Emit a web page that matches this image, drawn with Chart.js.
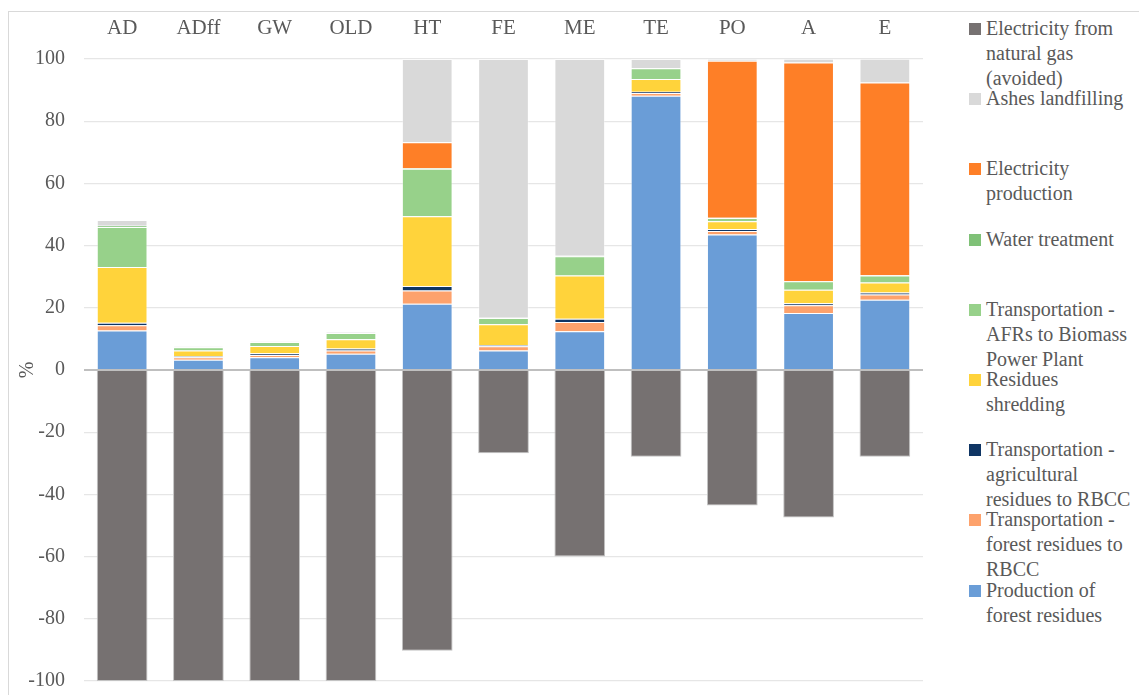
<!DOCTYPE html>
<html lang="en">
<head>
    <meta charset="UTF-8">
    <title>Contribution analysis</title>
    <script src="https://cdn.jsdelivr.net/npm/chart.js"></script>
    <style>
        body { margin: 0; background: #fff; overflow: hidden; }
        .frame { position: absolute; left: 8px; top: 11px; width: 1140px; height: 700px; border: 1px solid #d9d9d9; }
        .chart-box { position: absolute; left: 0; top: 0; width: 945px; height: 695px; overflow: hidden; }
        #legend { position: absolute; left: 0; top: 0; font-family: 'Liberation Serif', serif; font-size: 20px; color: #595959; }
        .item { position: absolute; left: 969px; width: 170px; line-height: 25px; }
        .item span.box { position: absolute; left: 0; top: 7px; width: 12px; height: 12px; }
        .item div { position: absolute; left: 17px; top: 0; white-space: nowrap; }
    </style>
</head>
<body>
    <div class="frame"></div>
    <div class="chart-box"><canvas id="myChart"></canvas></div>
    <div id="legend"></div>

    <script>
        // categorias de impacto
        const categories = ['AD', 'ADff', 'GW', 'OLD', 'HT', 'FE', 'ME', 'TE', 'PO', 'A', 'E'];

        // contribuciones (%)
        const prodForest  = [12.7, 3.3, 4.1, 5.2, 21.3, 6.3, 12.5, 88.2, 43.6, 18.3, 22.6];
        const transForest = [1.7, 0.8, 0.7, 1.1, 4.3, 1.3, 2.9, 0.9, 1.1, 2.5, 1.7];
        const transAgri   = [0.8, 0.3, 0.6, 0.6, 1.4, 0.4, 1.1, 0.4, 0.6, 0.7, 0.6];
        const shredding   = [17.9, 1.9, 2.3, 3.0, 22.4, 6.7, 13.9, 4.1, 2.5, 4.3, 3.2];
        const transAFR    = [12.9, 1.0, 1.3, 2.0, 15.3, 2.0, 6.2, 3.4, 1.1, 2.7, 2.3];
        const water       = [0.4, 0.05, 0.05, 0.05, 0.2, 0.1, 0.1, 0.05, 0.05, 0.05, 0.05];
        const elecProd    = [0, 0, 0, 0, 8.3, 0, 0, 0, 50.5, 70.3, 62.0];
        const ashes       = [1.8, 0.2, 0.2, 0.3, 26.8, 83.2, 63.3, 2.95, 0.6, 1.2, 7.6];
        const natGas      = [-100, -100, -100, -100, -90.3, -26.8, -60.0, -27.9, -43.6, -47.4, -27.9];

        const yTicks = [-100, -80, -60, -40, -20, 0, 20, 40, 60, 80, 100];

        const series = [
            { label: 'Production of forest residues', lines: ['Production of', 'forest residues'], data: prodForest, color: '#6a9dd7' },
            { label: 'Transportation - forest residues to RBCC', lines: ['Transportation -', 'forest residues to', 'RBCC'], data: transForest, color: '#fda26c' },
            { label: 'Transportation - agricultural residues to RBCC', lines: ['Transportation -', 'agricultural', 'residues to RBCC'], data: transAgri, color: '#0f3564' },
            { label: 'Residues shredding', lines: ['Residues', 'shredding'], data: shredding, color: '#ffd33b' },
            { label: 'Transportation - AFRs to Biomass Power Plant', lines: ['Transportation -', 'AFRs to Biomass', 'Power Plant'], data: transAFR, color: '#97d18a' },
            { label: 'Water treatment', lines: ['Water treatment'], data: water, color: '#7fc177' },
            { label: 'Electricity production', lines: ['Electricity', 'production'], data: elecProd, color: '#fe7f27' },
            { label: 'Ashes landfilling', lines: ['Ashes landfilling'], data: ashes, color: '#d9d9d9' },
            { label: 'Electricity from natural gas (avoided)', lines: ['Electricity from', 'natural gas', '(avoided)'], data: natGas, color: '#767171' }
        ];

        const FONT = 'Liberation Serif';
        const GREY = '#595959';

        const config = {
            type: 'bar',
            data: {
                labels: categories,
                datasets: series.map(s => ({
                    label: s.label,
                    data: s.data,
                    backgroundColor: s.color,
                    borderColor: s.label.startsWith('Electricity from') ? '#c3c3c3' : 'rgba(255,255,255,0.35)',
                    borderWidth: 1,
                    barPercentage: 0.665,
                    categoryPercentage: 1.0
                }))
            },
            options: {
                responsive: false,
                animation: false,
                layout: { padding: { left: 8, top: 11, right: 22, bottom: 15 } },
                plugins: { legend: { display: false }, tooltip: { enabled: false } },
                scales: {
                    x: {
                        stacked: true,
                        position: 'top',
                        grid: { display: false },
                        border: { display: false },
                        ticks: { color: GREY, font: { family: FONT, size: 21 }, padding: 10 },
                        afterFit: axis => { axis.height = 48; }
                    },
                    y: {
                        stacked: true,
                        min: -100,
                        max: 100,
                        afterBuildTicks: axis => { axis.ticks = yTicks.map(v => ({ value: v })); },
                        border: { display: false },
                        grid: {
                            color: ctx => ctx.tick && ctx.tick.value === 0 ? '#bfbfbf' : '#e6e6e6',
                            lineWidth: ctx => ctx.tick && ctx.tick.value === 0 ? 2 : 1.3,
                            drawTicks: false
                        },
                        ticks: { color: GREY, font: { family: FONT, size: 20 }, padding: 19 },
                        title: { display: true, text: '%', color: GREY, font: { family: FONT, size: 20 }, padding: { top: 8, bottom: 0 } },
                        afterFit: axis => { axis.width = 76; }
                    }
                }
            }
        };

        // el lienzo es algo mas alto porque Chart.js reserva espacio para la etiqueta -100
        const canvas = document.getElementById('myChart');
        canvas.width = 945;
        canvas.height = 712;
        new Chart(canvas, config);

        // leyenda en orden inverso (de arriba hacia abajo)
        const legend = document.getElementById('legend');
        series.slice().reverse().forEach((s, i) => {
            const item = document.createElement('div');
            item.className = 'item';
            item.style.top = (16 + i * 70.2) + 'px';
            item.innerHTML = '<span class="box" style="background:' + s.color + '"></span><div>' + s.lines.join('<br>') + '</div>';
            legend.appendChild(item);
        });
    </script>
</body>
</html>
